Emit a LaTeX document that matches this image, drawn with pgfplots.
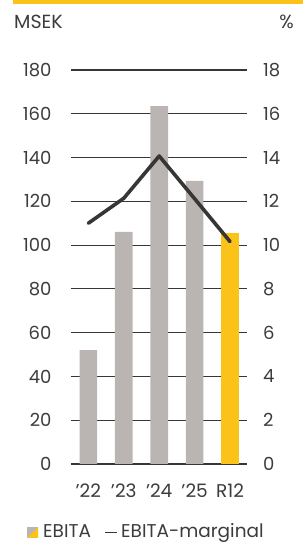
\documentclass[border=0pt]{standalone}
\usepackage{pgfplots}
\pgfplotsset{compat=1.18}
\usepackage{fontspec}
\setmainfont{Poppins}
\definecolor{txt}{HTML}{3C3C3C}
\definecolor{barg}{HTML}{BAB5B2}
\definecolor{yel}{HTML}{FBC21A}
\definecolor{ln}{HTML}{363634}
\begin{document}
\begin{tikzpicture}[x=1pt,y=1pt]
\path[use as bounding box] (0,0) rectangle (303,544);
\fill[yel] (13,540) rectangle (303,543.5);
\begin{axis}[
  at={(71pt,80pt)}, anchor=south west,
  scale only axis, width=175.7pt, height=394pt,
  xmin=-0.49, xmax=4.47, ymin=0, ymax=180,
  axis x line*=bottom, axis y line*=left,
  x axis line style={ln, line width=1.2pt, -},
  y axis line style={draw=none},
  xtick={0,1,2,3,4}, xticklabels={'22,'23,'24,'25,R12},
  major tick length=0pt,
  ytick={0,20,...,180},
  ymajorgrids, grid style={ln, line width=1.2pt},
  xticklabel style={font=\fontsize{18.5}{20}\selectfont, text=txt, yshift=-16pt},
  yticklabel style={font=\fontsize{18}{20}\selectfont, text=txt, anchor=east, xshift=-16pt},
  /pgf/number format/assume math mode=true,
  clip=false,
]
\addplot[ybar, bar width=17.7pt, fill=barg, draw=none] coordinates {(0,52) (1,106) (2,163.5) (3,129.4)};
\addplot[ybar, bar width=17.7pt, fill=yel, draw=none] coordinates {(4,105.4)};
\end{axis}
\begin{axis}[
  at={(71pt,80pt)}, anchor=south west,
  scale only axis, width=175.7pt, height=394pt,
  xmin=-0.49, xmax=4.47, ymin=0, ymax=18,
  axis y line*=right, axis x line=none,
  y axis line style={draw=none},
  major tick length=0pt,
  ytick={0,2,...,18},
  yticklabel style={font=\fontsize{18}{20}\selectfont, text=txt, anchor=west, xshift=13pt},
  /pgf/number format/assume math mode=true,
  clip=false,
]
\addplot[ln, line width=3.6pt, line join=round, line cap=round] coordinates {(0,11.0) (1,12.14) (2,14.07) (3,12.12) (4,10.16)};
\end{axis}
\node[anchor=west, text=txt, font=\fontsize{19}{22}\selectfont, inner sep=0pt] at (14,522) {MSEK};
\node[anchor=east, text=txt, font=\fontsize{19}{22}\selectfont, inner sep=0pt] at (294,522) {\%};
% legend
\fill[barg] (27,6) rectangle (38,17);
\fill[yel] (38,6) -- (38,17) -- (27,6) -- cycle;
\node[anchor=base west, text=txt, font=\fontsize{18.5}{22}\selectfont, inner sep=0pt] at (43,6) {EBITA};
\draw[ln, line width=1.5pt] (105,11.5) -- (117,11.5);
\node[anchor=base west, text=txt, font=\fontsize{18.5}{22}\selectfont, inner sep=0pt] at (121,6) {EBITA-marginal};
\end{tikzpicture}
\end{document}
